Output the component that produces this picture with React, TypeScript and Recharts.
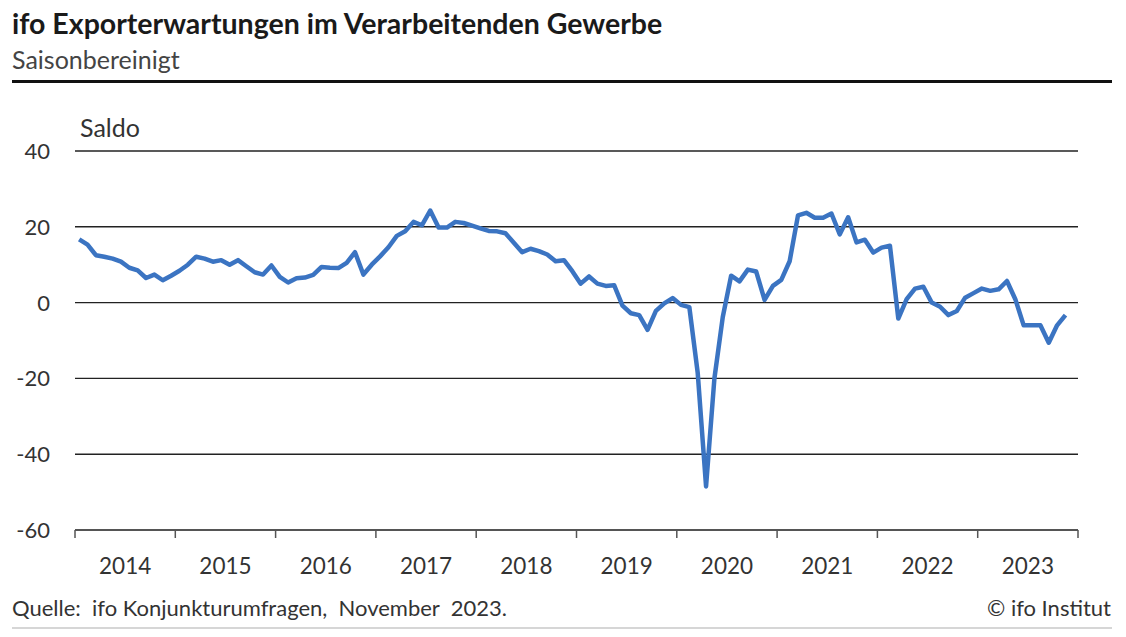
import { LineChart, Line, XAxis, YAxis, CartesianGrid } from 'recharts';

// ifo Exporterwartungen, saisonbereinigt, Saldo – monthly, Jan 2014 to Nov 2023
const saldo2014 = [16.7, 15.3, 12.5, 12.1, 11.6, 10.8, 9.2, 8.5, 6.5, 7.4, 5.9, 7.1];
const saldo2015 = [8.4, 10.0, 12.1, 11.6, 10.8, 11.2, 10.0, 11.2, 9.6, 8.0, 7.4, 9.8];
const saldo2016 = [6.8, 5.3, 6.4, 6.6, 7.3, 9.4, 9.2, 9.1, 10.5, 13.3, 7.4, 10.0];
const saldo2017 = [12.2, 14.6, 17.6, 18.8, 21.3, 20.4, 24.3, 19.8, 19.8, 21.3, 21.0, 20.3];
const saldo2018 = [19.6, 18.9, 18.8, 18.3, 15.8, 13.3, 14.2, 13.6, 12.7, 10.9, 11.2, 8.3];
const saldo2019 = [5.0, 6.9, 5.0, 4.4, 4.6, -0.8, -2.8, -3.3, -7.2, -2.2, -0.2, 1.2];
const saldo2020 = [-0.6, -1.2, -18.5, -48.5, -20.0, -3.8, 7.1, 5.6, 8.7, 8.2, 0.7, 4.4];
const saldo2021 = [6.0, 10.9, 23.0, 23.7, 22.4, 22.4, 23.5, 18.0, 22.5, 15.9, 16.6, 13.2];
const saldo2022 = [14.5, 15.0, -4.2, 0.9, 3.7, 4.2, 0.0, -1.1, -3.3, -2.2, 1.3, 2.5];
const saldo2023 = [3.7, 3.1, 3.5, 5.7, 0.9, -6.0, -6.0, -6.0, -10.6, -6.0, -3.3];

const yearLabels = ['2014', '2015', '2016', '2017', '2018', '2019', '2020', '2021', '2022', '2023'];
const yTicks = [-60, -40, -20, 0, 20, 40];

const saldo = [
  ...saldo2014, ...saldo2015, ...saldo2016, ...saldo2017, ...saldo2018,
  ...saldo2019, ...saldo2020, ...saldo2021, ...saldo2022, ...saldo2023,
];

const data = saldo.map((v, i) => ({ t: i + 0.5, saldo: v }));
const monthTicks = [...yearLabels.map((_, k) => k * 12), yearLabels.length * 12];

const W = 1126;
const H = 637;
const M = { top: 151, right: 48, bottom: 57, left: 15 };
const Y_W = 60;
const YEAR_PX = (W - M.left - M.right - Y_W) / yearLabels.length;
const FONT = 'Lato, "Noto Sans", sans-serif';

function YearTick({ x, y, index }: any) {
  if (index >= yearLabels.length) return null;
  return (
    <text x={x + YEAR_PX / 2} y={y + 34} textAnchor="middle" fontSize={22.5} fill="#333" fontFamily={FONT}>
      {yearLabels[index]}
    </text>
  );
}

function ValueTick({ y, payload }: any) {
  return (
    <text x={50} y={y + 8} textAnchor="end" fontSize={22} fill="#333" fontFamily={FONT}>
      {payload.value}
    </text>
  );
}

export default function App() {
  return (
    <div style={{ position: 'absolute', left: 0, top: 0, width: W, height: H, background: '#fff', fontFamily: FONT }}>
      <div style={{ position: 'absolute', left: 12, top: 6, fontSize: 28.5, fontWeight: 700, color: '#1a1a1a', lineHeight: '34px' }}>
        ifo Exporterwartungen im Verarbeitenden Gewerbe
      </div>
      <div style={{ position: 'absolute', left: 12, top: 44, fontSize: 25, color: '#444', lineHeight: '30px' }}>
        Saisonbereinigt
      </div>
      <div style={{ position: 'absolute', left: 12, top: 80, width: 1100, height: 3, background: '#111' }} />
      <div style={{ position: 'absolute', left: 80, top: 112, fontSize: 25, color: '#333', lineHeight: '30px' }}>
        Saldo
      </div>

      <div style={{ position: 'absolute', left: 0, top: 0 }}>
        <LineChart width={W} height={H} data={data} margin={M}>
          <CartesianGrid vertical={false} stroke="#222" strokeWidth={1.4} />
          <XAxis
            type="number"
            dataKey="t"
            domain={[0, 120]}
            ticks={monthTicks}
            interval={0}
            height={50}
            axisLine={{ stroke: '#555', strokeWidth: 1.5 }}
            tickLine={{ stroke: '#555', strokeWidth: 1.5 }}
            tickSize={8}
            tick={<YearTick />}
          />
          <YAxis
            type="number"
            domain={[-60, 40]}
            ticks={yTicks}
            interval={0}
            width={Y_W}
            axisLine={false}
            tickLine={false}
            tick={<ValueTick />}
          />
          <Line
            type="linear"
            dataKey="saldo"
            stroke="#3b74c2"
            strokeWidth={4.5}
            strokeLinejoin="round"
            dot={false}
            isAnimationActive={false}
          />
        </LineChart>
      </div>

      <div style={{ position: 'absolute', left: 12, top: 594, fontSize: 22, color: '#333', lineHeight: '27px', whiteSpace: 'pre' }}>
        {'Quelle:  ifo Konjunkturumfragen,  November  2023.'}
      </div>
      <div style={{ position: 'absolute', right: 15, top: 594, fontSize: 22, color: '#333', lineHeight: '27px' }}>
        © ifo Institut
      </div>
      <div style={{ position: 'absolute', left: 12, top: 627, width: 1100, height: 2, background: '#d6d6d6' }} />
    </div>
  );
}
